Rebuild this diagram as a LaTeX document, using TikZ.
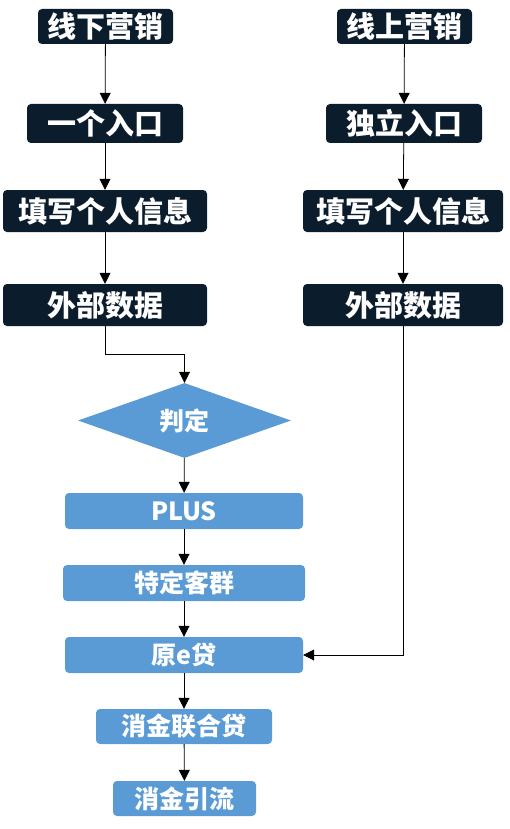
\documentclass[tikz,border=0pt]{standalone}
\usepackage{fontspec}
\setmainfont{Noto Sans CJK SC}
\usetikzlibrary{arrows.meta,shapes.geometric}
\definecolor{navy}{HTML}{0B1D2D}
\definecolor{steel}{HTML}{5B9BD5}
\begin{document}
\begin{tikzpicture}[x=1pt,y=-1pt,
    darkbox/.style={fill=navy,text=white,rounded corners=4pt,inner sep=0pt,minimum height=40pt,font=\fontsize{29}{29}\selectfont\bfseries},
    bluebox/.style={fill=steel,text=white,rounded corners=4pt,inner sep=0pt,minimum height=36pt,font=\fontsize{25}{25}\selectfont\bfseries},
    link/.style={draw=black,line width=0.8pt,-{Triangle[width=11pt,length=11pt]}}]
        \useasboundingbox (0,0) rectangle (509,829);

        % left column
        \node[darkbox,minimum width=135pt,minimum height=35pt] (xxyx) at (105.5,26.5) {线下营销};
        \node[darkbox,minimum width=156pt,minimum height=39pt] (rukou1) at (105,123.5) {一个入口};
        \node[darkbox,minimum width=204pt,minimum height=42pt] (xinxi1) at (105,211) {填写个人信息};
        \node[darkbox,minimum width=204pt,minimum height=42pt] (shuju1) at (105,305) {外部数据};

        % right column
        \node[darkbox,minimum width=135pt,minimum height=35pt] (xsyx) at (404.5,26.5) {线上营销};
        \node[darkbox,minimum width=156pt,minimum height=39pt] (rukou2) at (404,123.5) {独立入口};
        \node[darkbox,minimum width=200pt,minimum height=42pt] (xinxi2) at (403,211) {填写个人信息};
        \node[darkbox,minimum width=200pt,minimum height=42pt] (shuju2) at (403,305) {外部数据};

        % main flow
        \node[diamond,fill=steel,text=white,inner sep=0pt,minimum width=213pt,minimum height=75pt,aspect=2.84,
              font=\fontsize{25}{25}\selectfont\bfseries] (panding) at (184.5,420.5) {判定};
        \node[bluebox,minimum width=238pt] (plus) at (184,511) {PLUS};
        \node[bluebox,minimum width=242pt] (kequn) at (184,583) {特定客群};
        \node[bluebox,minimum width=238pt] (yed) at (184,655) {原e贷};
        \node[bluebox,minimum width=176pt,minimum height=35pt] (lhd) at (184,726.5) {消金联合贷};
        \node[bluebox,minimum width=143pt,minimum height=35pt] (yinliu) at (184.5,798.5) {消金引流};

        \draw[link] (xxyx) -- (rukou1);
        \draw[link] (rukou1) -- (xinxi1);
        \draw[link] (xinxi1) -- (shuju1);
        \draw[link] (xsyx) -- (rukou2);
        \draw[link] (rukou2) -- (xinxi2);
        \draw[link] (xinxi2) -- (shuju2);
        \draw[link] (shuju1.south) -- ++(0,28) -| (panding.north);
        \draw[link] (panding) -- (plus);
        \draw[link] (plus) -- (kequn);
        \draw[link] (kequn) -- (yed);
        \draw[link] (yed) -- (lhd);
        \draw[link] (lhd) -- (yinliu);
        \draw[link] (shuju2.south) |- (yed.east);
    \end{tikzpicture}
\end{document}
